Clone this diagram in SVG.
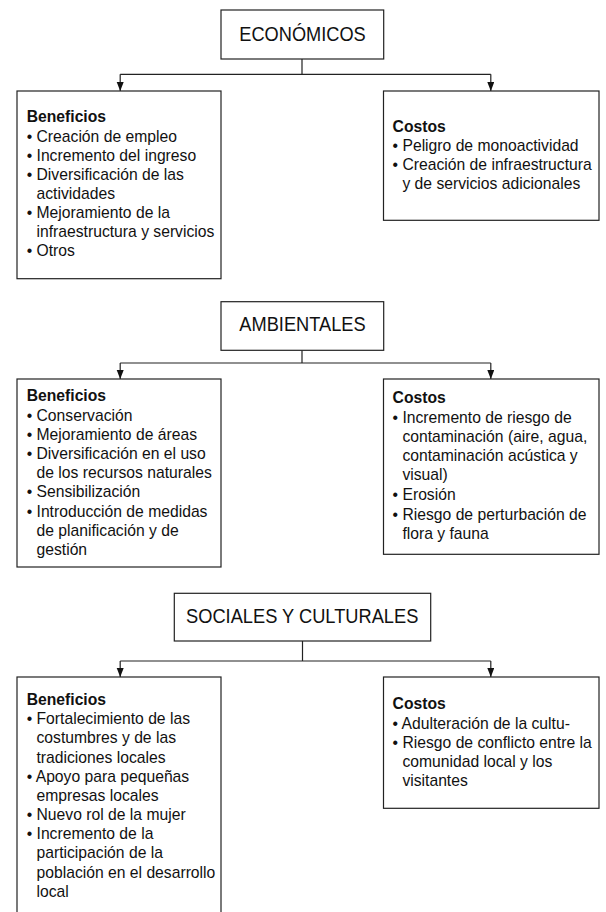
<svg xmlns="http://www.w3.org/2000/svg" width="606" height="912" viewBox="0 0 606 912">
<defs>
<marker id="arr" markerUnits="userSpaceOnUse" markerWidth="10" markerHeight="8" refX="9" refY="3.5" orient="auto" viewBox="0 0 10 8">
<path d="M0,0 L9,3.5 L0,7 Z" fill="#111"/>
</marker>
<style>
.box{fill:#fff;stroke:#222;stroke-width:1.2}
.title{font-family:"Liberation Sans",Arial,sans-serif;font-size:19.5px;fill:#111;text-anchor:middle}
.t{font-family:"Liberation Sans",Arial,sans-serif;font-size:15.7px;fill:#111}
.h{font-weight:bold}
.c{fill:none;stroke:#222;stroke-width:1.2}
</style>
</defs>
<rect width="606" height="912" fill="#fff"/>

<g id="connectors">
<path class="c" d="M302,59 V74.3 M120.2,74.3 H490.8"/>
<path class="c" d="M120.2,74.3 V91" marker-end="url(#arr)"/>
<path class="c" d="M490.8,74.3 V91" marker-end="url(#arr)"/>
<path class="c" d="M302,350.3 V363 M120.2,363 H490.8"/>
<path class="c" d="M120.2,363 V379" marker-end="url(#arr)"/>
<path class="c" d="M490.8,363 V379" marker-end="url(#arr)"/>
<path class="c" d="M302.5,641 V661 M120.2,661 H490.8"/>
<path class="c" d="M120.2,661 V677" marker-end="url(#arr)"/>
<path class="c" d="M490.8,661 V677" marker-end="url(#arr)"/>
</g>

<g id="economicos">
<rect class="box" x="221" y="10" width="162.7" height="49"/>
<text class="title" x="302.5" y="40.7" textLength="126.4" lengthAdjust="spacingAndGlyphs">ECONÓMICOS</text>
</g>
<g id="eco-beneficios">
<rect class="box" x="17" y="91" width="204" height="187.7"/>
<text class="t h" x="26.7" y="122.3">Beneficios</text>
<text class="t" x="26.7" y="141.7">• Creación de empleo</text>
<text class="t" x="26.7" y="160.7">• Incremento del ingreso</text>
<text class="t" x="26.7" y="179.7">• Diversificación de las</text>
<text class="t" x="36.5" y="198.7">actividades</text>
<text class="t" x="26.7" y="217.7">• Mejoramiento de la</text>
<text class="t" x="36.5" y="236.7">infraestructura y servicios</text>
<text class="t" x="26.7" y="255.7">• Otros</text>
</g>
<g id="eco-costos">
<rect class="box" x="383.5" y="91" width="215.5" height="129.3"/>
<text class="t h" x="392.6" y="131.7">Costos</text>
<text class="t" x="392.6" y="150.7">• Peligro de monoactividad</text>
<text class="t" x="392.6" y="169.7">• Creación de infraestructura</text>
<text class="t" x="402.4" y="188.7">y de servicios adicionales</text>
</g>

<g id="ambientales">
<rect class="box" x="221" y="301.7" width="162.7" height="48.6"/>
<text class="title" x="302.5" y="331.3" textLength="126.4" lengthAdjust="spacingAndGlyphs">AMBIENTALES</text>
</g>
<g id="amb-beneficios">
<rect class="box" x="17" y="379" width="204" height="188"/>
<text class="t h" x="26.7" y="401">Beneficios</text>
<text class="t" x="26.7" y="421">• Conservación</text>
<text class="t" x="26.7" y="440">• Mejoramiento de áreas</text>
<text class="t" x="26.7" y="459">• Diversificación en el uso</text>
<text class="t" x="36.5" y="478">de los recursos naturales</text>
<text class="t" x="26.7" y="497">• Sensibilización</text>
<text class="t" x="26.7" y="516.7">• Introducción de medidas</text>
<text class="t" x="36.5" y="535.7">de planificación y de</text>
<text class="t" x="36.5" y="554.7">gestión</text>
</g>
<g id="amb-costos">
<rect class="box" x="383.5" y="379" width="215.5" height="175.3"/>
<text class="t h" x="392.6" y="403.3">Costos</text>
<text class="t" x="392.6" y="423.3">• Incremento de riesgo de</text>
<text class="t" x="402.4" y="442.3">contaminación (aire, agua,</text>
<text class="t" x="402.4" y="461.3">contaminación acústica y</text>
<text class="t" x="402.4" y="480.3">visual)</text>
<text class="t" x="392.6" y="500.3">• Erosión</text>
<text class="t" x="392.6" y="519.7">• Riesgo de perturbación de</text>
<text class="t" x="402.4" y="538.7">flora y fauna</text>
</g>

<g id="sociales">
<rect class="box" x="174.3" y="593.3" width="256.4" height="47.7"/>
<text class="title" x="302.2" y="622.7" textLength="232.3" lengthAdjust="spacingAndGlyphs">SOCIALES Y CULTURALES</text>
</g>
<g id="soc-beneficios">
<rect class="box" x="17" y="677" width="204" height="250"/>
<text class="t h" x="26.7" y="705">Beneficios</text>
<text class="t" x="26.7" y="724">• Fortalecimiento de las</text>
<text class="t" x="36.5" y="743">costumbres y de las</text>
<text class="t" x="36.5" y="762.7">tradiciones locales</text>
<text class="t" x="26.7" y="782">• Apoyo para pequeñas</text>
<text class="t" x="36.5" y="801">empresas locales</text>
<text class="t" x="26.7" y="820">• Nuevo rol de la mujer</text>
<text class="t" x="26.7" y="839">• Incremento de la</text>
<text class="t" x="36.5" y="858">participación de la</text>
<text class="t" x="36.5" y="877.7">población en el desarrollo</text>
<text class="t" x="36.5" y="896.7">local</text>
</g>
<g id="soc-costos">
<rect class="box" x="383.5" y="677" width="215.5" height="131.3"/>
<text class="t h" x="392.6" y="709.3">Costos</text>
<text class="t" x="392.6" y="729.3">• Adulteración de la cultu-</text>
<text class="t" x="392.6" y="748.3">• Riesgo de conflicto entre la</text>
<text class="t" x="402.4" y="767.3">comunidad local y los</text>
<text class="t" x="402.4" y="786.3">visitantes</text>
</g>
</svg>
